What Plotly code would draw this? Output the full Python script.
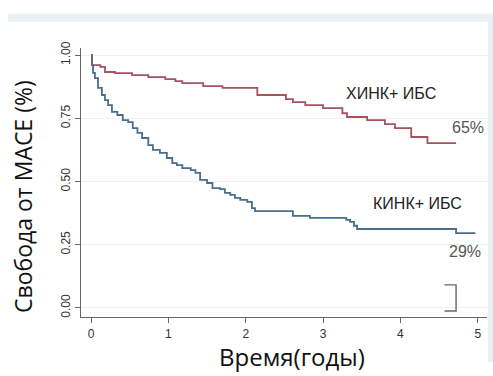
import plotly.graph_objects as go

# Kaplan-Meier step data (time in years, survival fraction)
red_t = [0, 0.013, 0.12, 0.18, 0.31, 0.53, 0.74, 0.96, 1.09, 1.18, 1.45, 1.70, 2.15, 2.52, 2.61,
         2.77, 3.0, 3.25, 3.31, 3.57, 3.80, 3.93, 4.14, 4.35, 4.72]
red_s = [1.0, 0.96, 0.953, 0.933, 0.929, 0.921, 0.913, 0.905, 0.897, 0.889, 0.877, 0.870, 0.842,
         0.826, 0.814, 0.802, 0.79, 0.77, 0.755, 0.743, 0.727, 0.711, 0.676, 0.652, 0.652]

blue_t = [0, 0.013, 0.026, 0.05, 0.09, 0.14, 0.18, 0.22, 0.27, 0.34, 0.41, 0.48, 0.54, 0.60, 0.66,
          0.74, 0.80, 0.89, 0.98, 1.05, 1.11, 1.18, 1.29, 1.35, 1.41, 1.50, 1.57, 1.67, 1.73, 1.80,
          1.86, 1.93, 2.02, 2.08, 2.12, 2.61, 2.83, 3.30, 3.35, 3.40, 3.44, 4.72, 4.97]
blue_s = [1.0, 0.96, 0.93, 0.909, 0.87, 0.842, 0.822, 0.802, 0.775, 0.763, 0.743, 0.735, 0.711,
          0.692, 0.672, 0.644, 0.625, 0.613, 0.593, 0.573, 0.565, 0.553, 0.545, 0.534, 0.506,
          0.494, 0.474, 0.470, 0.455, 0.447, 0.435, 0.427, 0.419, 0.395, 0.383, 0.364, 0.356,
          0.348, 0.340, 0.325, 0.312, 0.296, 0.296]

x_ticks = [0, 1, 2, 3, 4, 5]
y_ticks = [0, 0.25, 0.5, 0.75, 1.0]
y_tick_text = ["0.00", "0.25", "0.50", "0.75", "1.00"]

red_label = "ХИНК+ ИБС"
blue_label = "КИНК+ ИБС"
red_pct = "65%"
blue_pct = "29%"
x_title = "Время(годы)"
y_title = "Свобода от MACE (%)"

RED = "#a5535d"
BLUE = "#4a6f8e"

fig = go.Figure()
fig.add_trace(go.Scatter(x=red_t, y=red_s, mode="lines", line=dict(color=RED, width=1.8, shape="hv"),
                         showlegend=False, hoverinfo="skip"))
fig.add_trace(go.Scatter(x=blue_t, y=blue_s, mode="lines", line=dict(color=BLUE, width=1.8, shape="hv"),
                         showlegend=False, hoverinfo="skip"))

W, H = 493, 376
L, R, T, B = 81, 6, 48, 59
pw, ph = W - L - R, H - T - B


def px(x):
    return (x - L) / pw


def py(y):
    return (H - B - y) / ph


BAND = "#eaf1f4"
shapes = [
    dict(type="rect", xref="paper", yref="paper", x0=px(8), x1=px(493), y0=py(22), y1=py(14),
         fillcolor=BAND, line=dict(width=0), layer="below"),
    dict(type="rect", xref="paper", yref="paper", x0=px(488), x1=px(493), y0=py(362), y1=py(14),
         fillcolor=BAND, line=dict(width=0), layer="below"),
    # bracket mark at bottom right
    dict(type="path", xref="x", yref="y",
         path="M 4.57 0.091 L 4.72 0.091 L 4.72 -0.012 L 4.57 -0.012",
         line=dict(color="#666666", width=1.4)),
]

fig.update_layout(
    width=W, height=H,
    margin=dict(l=L, r=R, t=T, b=B),
    paper_bgcolor="white", plot_bgcolor="white",
    font=dict(family="Liberation Sans, Arial, sans-serif", color="#333333"),
    shapes=shapes,
    showlegend=False,
)

fig.update_xaxes(
    range=[-0.13, 5.12], tickvals=x_ticks, ticktext=[str(v) for v in x_ticks],
    showline=True, linecolor="#666666", linewidth=1.2,
    ticks="outside", ticklen=5, tickcolor="#666666",
    showgrid=False, zeroline=False,
    tickfont=dict(size=12, color="#333333"),
)
fig.update_yaxes(
    range=[-0.036, 1.028], tickvals=y_ticks, ticktext=y_tick_text, tickangle=-90,
    showline=True, linecolor="#666666", linewidth=1.2,
    ticks="outside", ticklen=5, tickcolor="#666666",
    showgrid=True, gridcolor="#e9f1f3", gridwidth=1, zeroline=False,
    tickfont=dict(size=12, color="#333333"),
)

fig.add_annotation(xref="paper", yref="paper", x=px(23), y=py(197), text=y_title, textangle=-90,
                   showarrow=False, font=dict(size=23, color="#111111", family="Open Sans, sans-serif"),
                   xanchor="center", yanchor="middle")
fig.add_annotation(xref="paper", yref="paper", x=px(292), y=py(356), text=x_title,
                   showarrow=False, font=dict(size=24, color="#111111", family="Open Sans, sans-serif"),
                   xanchor="center", yanchor="middle")

ann_font = dict(size=16, color="#222222", family="Liberation Sans, Arial, sans-serif")
pct_font = dict(size=16, color="#555555", family="Liberation Sans, Arial, sans-serif")
fig.add_annotation(x=3.88, y=0.85, text=red_label, showarrow=False, font=ann_font)
fig.add_annotation(x=4.88, y=0.715, text=red_pct, showarrow=False, font=pct_font)
fig.add_annotation(x=4.22, y=0.411, text=blue_label, showarrow=False, font=ann_font)
fig.add_annotation(x=4.84, y=0.225, text=blue_pct, showarrow=False, font=pct_font)

fig.write_html("out.html")
